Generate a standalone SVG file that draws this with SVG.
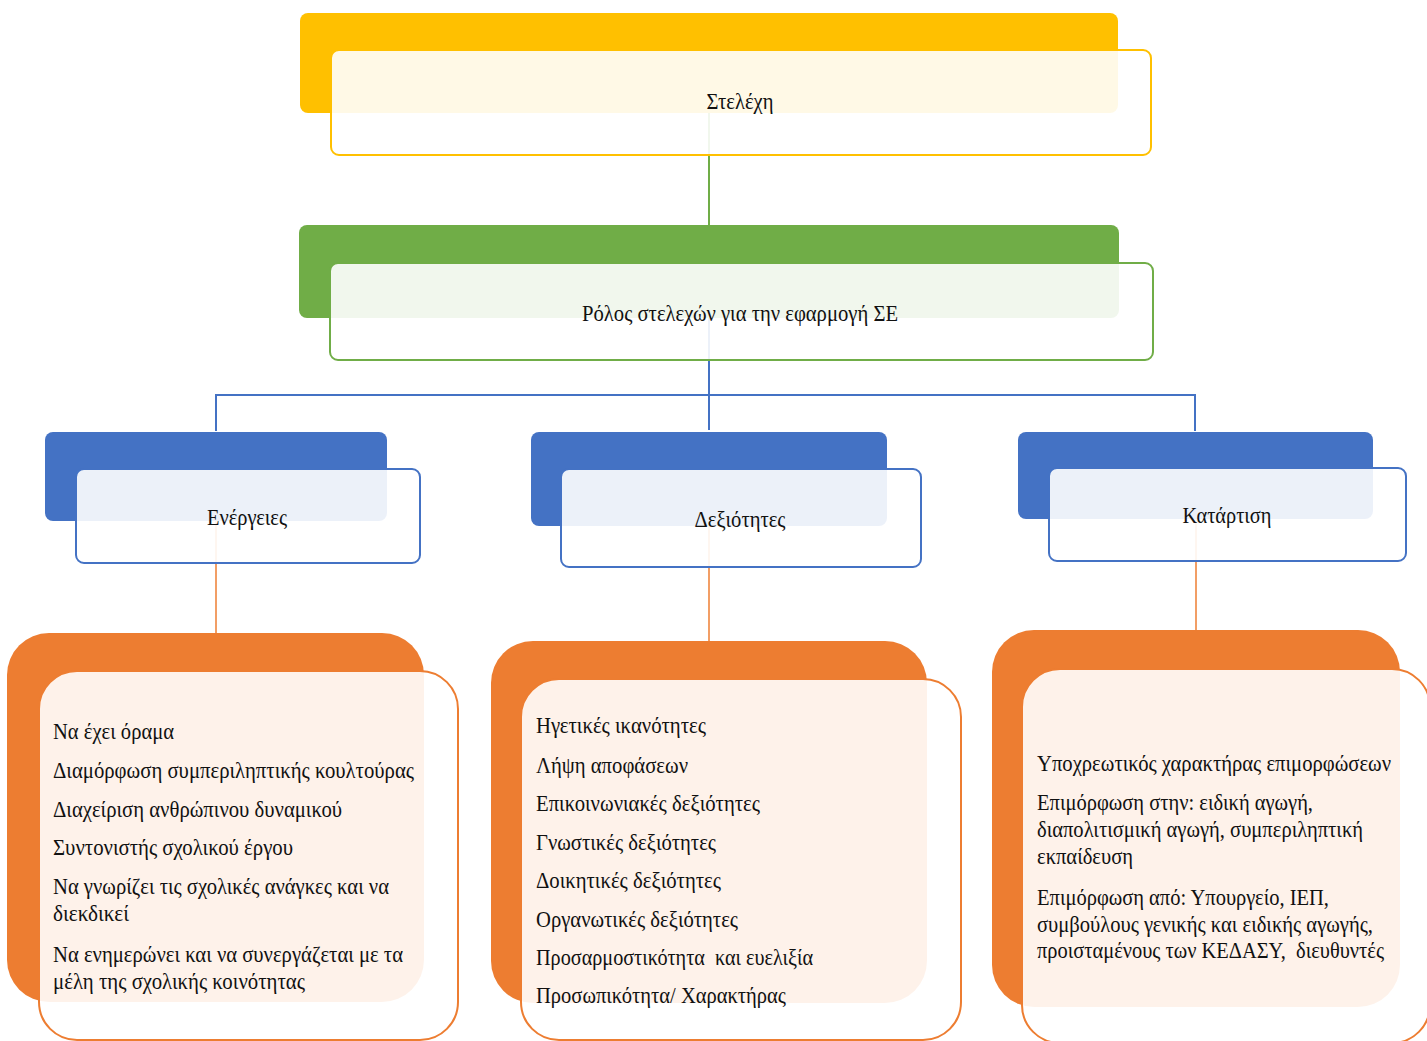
<svg xmlns="http://www.w3.org/2000/svg" width="1427" height="1041" viewBox="0 0 1427 1041">
<style>
.t{font-family:"Liberation Serif","Times New Roman",serif;fill:#111;}
.h{font-size:24px;text-anchor:middle;}
.b{font-size:24px;}
.front{fill:#ffffff;fill-opacity:0.9;stroke-width:2;}
.y{fill:#FFC000;} .yf{stroke:#FFC000;}
.g{fill:#70AD47;} .gf{stroke:#70AD47;}
.bl{fill:#4472C4;} .blf{stroke:#4472C4;}
.o{fill:#ED7D31;} .of{stroke:#ED7D31;}
.cg{stroke:#70AD47;stroke-width:2;fill:none;}
.cb{stroke:#4472C4;stroke-width:2;fill:none;}
.co{stroke:#ED7D31;stroke-opacity:0.75;stroke-width:2;fill:none;}
</style>
<rect width="1427" height="1041" fill="#ffffff"/>
<g id="connectors">
<line class="cg" x1="709" y1="113" x2="709" y2="225"/>
<path class="cb" d="M709 318 V430 M709 395 H216 V431 M709 395 H1195 V431"/>
<line class="co" x1="216" y1="520" x2="216" y2="633"/>
<line class="co" x1="709" y1="525" x2="709" y2="641"/>
<line class="co" x1="1196" y1="518" x2="1196" y2="630"/>
</g>
<g id="node-stelechi">
<rect class="y" x="300" y="13" width="818" height="100" rx="8"/>
<rect class="front yf" x="331" y="50" width="820" height="105" rx="8"/>
<text class="t h" x="740" y="109" textLength="67" lengthAdjust="spacingAndGlyphs">Στελέχη</text>
</g>
<g id="node-rolos">
<rect class="g" x="299" y="225" width="820" height="93" rx="8"/>
<rect class="front gf" x="330" y="263" width="823" height="97" rx="8"/>
<text class="t h" x="740" y="321" textLength="316" lengthAdjust="spacingAndGlyphs">Ρόλος στελεχών για την εφαρμογή ΣΕ</text>
</g>
<g id="node-energeies">
<rect class="bl" x="45" y="432" width="342" height="89" rx="8"/>
<rect class="front blf" x="76" y="469" width="344" height="94" rx="8"/>
<text class="t h" x="247" y="525" textLength="80" lengthAdjust="spacingAndGlyphs">Ενέργειες</text>
</g>
<g id="node-dexiotites">
<rect class="bl" x="531" y="432" width="356" height="94" rx="8"/>
<rect class="front blf" x="561" y="469" width="360" height="98" rx="8"/>
<text class="t h" x="740" y="527" textLength="91" lengthAdjust="spacingAndGlyphs">Δεξιότητες</text>
</g>
<g id="node-katartisi">
<rect class="bl" x="1018" y="432" width="355" height="87" rx="8"/>
<rect class="front blf" x="1049" y="468" width="357" height="93" rx="8"/>
<text class="t h" x="1227" y="523" textLength="89" lengthAdjust="spacingAndGlyphs">Κατάρτιση</text>
</g>
<g id="node-energeies-list">
<rect class="o" x="7" y="633" width="417" height="369" rx="42"/>
<rect class="front of" x="39" y="671" width="419" height="369" rx="38"/>
<g class="t b">
<text x="53" y="739" textLength="121" lengthAdjust="spacingAndGlyphs">Να έχει όραμα</text>
<text x="53" y="778" textLength="361" lengthAdjust="spacingAndGlyphs">Διαμόρφωση συμπεριληπτικής κουλτούρας</text>
<text x="53" y="817" textLength="289" lengthAdjust="spacingAndGlyphs">Διαχείριση ανθρώπινου δυναμικού</text>
<text x="53" y="855" textLength="240" lengthAdjust="spacingAndGlyphs">Συντονιστής σχολικού έργου</text>
<text x="53" y="894" textLength="336" lengthAdjust="spacingAndGlyphs">Να γνωρίζει τις σχολικές ανάγκες και να</text>
<text x="53" y="921" textLength="76" lengthAdjust="spacingAndGlyphs">διεκδικεί</text>
<text x="53" y="962" textLength="350" lengthAdjust="spacingAndGlyphs">Να ενημερώνει και να συνεργάζεται με τα</text>
<text x="53" y="989" textLength="252" lengthAdjust="spacingAndGlyphs">μέλη της σχολικής κοινότητας</text>
</g>
</g>
<g id="node-dexiotites-list">
<rect class="o" x="491" y="641" width="436" height="362" rx="42"/>
<rect class="front of" x="521" y="679" width="440" height="361" rx="38"/>
<g class="t b">
<text x="536" y="733" textLength="170" lengthAdjust="spacingAndGlyphs">Ηγετικές ικανότητες</text>
<text x="536" y="773" textLength="152" lengthAdjust="spacingAndGlyphs">Λήψη αποφάσεων</text>
<text x="536" y="811" textLength="224" lengthAdjust="spacingAndGlyphs">Επικοινωνιακές δεξιότητες</text>
<text x="536" y="850" textLength="180" lengthAdjust="spacingAndGlyphs">Γνωστικές δεξιότητες</text>
<text x="536" y="888" textLength="185" lengthAdjust="spacingAndGlyphs">Δοικητικές δεξιότητες</text>
<text x="536" y="927" textLength="202" lengthAdjust="spacingAndGlyphs">Οργανωτικές δεξιότητες</text>
<text x="536" y="965" textLength="277" lengthAdjust="spacingAndGlyphs" xml:space="preserve">Προσαρμοστικότητα  και ευελιξία</text>
<text x="536" y="1003" textLength="250" lengthAdjust="spacingAndGlyphs">Προσωπικότητα/ Χαρακτήρας</text>
</g>
</g>
<g id="node-katartisi-list">
<rect class="o" x="992" y="630" width="408" height="377" rx="42"/>
<rect class="front of" x="1022" y="669" width="408" height="374" rx="38"/>
<g class="t b">
<text x="1037" y="771" textLength="354" lengthAdjust="spacingAndGlyphs">Υποχρεωτικός χαρακτήρας επιμορφώσεων</text>
<text x="1037" y="810" textLength="276" lengthAdjust="spacingAndGlyphs">Επιμόρφωση στην: ειδική αγωγή,</text>
<text x="1037" y="837" textLength="326" lengthAdjust="spacingAndGlyphs">διαπολιτισμική αγωγή, συμπεριληπτική</text>
<text x="1037" y="864" textLength="96" lengthAdjust="spacingAndGlyphs">εκπαίδευση</text>
<text x="1037" y="905" textLength="292" lengthAdjust="spacingAndGlyphs">Επιμόρφωση από: Υπουργείο, ΙΕΠ,</text>
<text x="1037" y="932" textLength="336" lengthAdjust="spacingAndGlyphs">συμβούλους γενικής και ειδικής αγωγής,</text>
<text x="1037" y="958" textLength="347" lengthAdjust="spacingAndGlyphs" xml:space="preserve">προισταμένους των ΚΕΔΑΣΥ,  διευθυντές</text>
</g>
</g>
</svg>
